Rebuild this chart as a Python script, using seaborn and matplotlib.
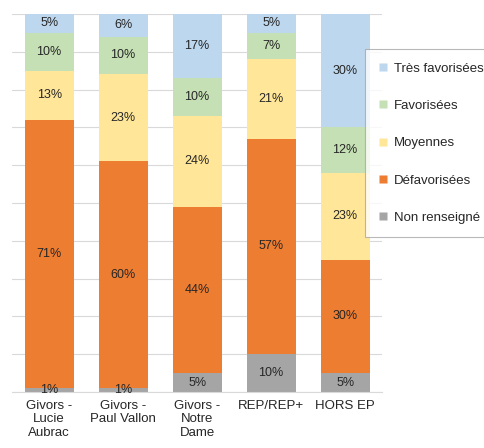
import matplotlib
matplotlib.use("Agg")
import matplotlib.pyplot as plt
import seaborn as sns
import pandas as pd
import numpy as np
from matplotlib.lines import Line2D

categories = ["Givors -\nLucie\nAubrac", "Givors -\nPaul Vallon", "Givors -\nNotre\nDame", "REP/REP+", "HORS EP"]
series_names = ["Non renseigné", "Défavorisées", "Moyennes", "Favorisées", "Très favorisées"]
non_renseigne = [1, 1, 5, 10, 5]
defavorisees = [71, 60, 44, 57, 30]
moyennes = [13, 23, 24, 21, 23]
favorisees = [10, 10, 10, 7, 12]
tres_favorisees = [5, 6, 17, 5, 30]
colors = ["#A5A5A5", "#ED7D31", "#FFE699", "#C5E0B4", "#BDD7EE"]

series = [non_renseigne, defavorisees, moyennes, favorisees, tres_favorisees]

sns.set_style("white")
plt.rcParams['font.family'] = ['Liberation Sans', 'DejaVu Sans']

fig = plt.figure(figsize=(4.85, 4.48), dpi=100)
ax = fig.add_axes([0.025, 0.125, 0.763, 0.844])

vals = np.array(series, dtype=float)
cum = np.cumsum(vals, axis=0)

for i in reversed(range(len(series))):
    df = pd.DataFrame({"cat": categories, "val": cum[i]})
    sns.barplot(data=df, x="cat", y="val", color=colors[i], saturation=1,
                width=0.66, ax=ax, zorder=2, edgecolor="none", linewidth=0)

for i in range(len(series)):
    for j in range(len(categories)):
        center = cum[i][j] - vals[i][j] / 2
        ax.text(j, center, f"{int(vals[i][j])}%", ha="center", va="center",
                fontsize=9, color="#262626", zorder=5)

ax.set_ylim(0, 100)
ax.set_xlim(-0.5, 4.5)
ax.set_yticks(np.arange(0, 101, 10))
ax.yaxis.grid(True, color="#D9D9D9", linewidth=0.8, zorder=0)
ax.set_axisbelow(True)
ax.tick_params(axis="y", left=False, labelleft=False)
ax.tick_params(axis="x", bottom=False, labelsize=9.5, colors="#262626", pad=2)
ax.set_xlabel("")
ax.set_ylabel("")
for s in ["top", "right", "left"]:
    ax.spines[s].set_visible(False)
ax.spines["bottom"].set_color("#D9D9D9")

handles = [Line2D([0], [0], marker="s", color="none", markerfacecolor=colors[i],
                  markeredgecolor="none", markersize=6) for i in reversed(range(len(series)))]
labels = list(reversed(series_names))
leg = fig.legend(handles, labels, loc="upper left", bbox_to_anchor=(0.752, 0.89),
                 fontsize=9.5, frameon=True, fancybox=False, labelspacing=1.9,
                 handlelength=0.8, handletextpad=0.4, borderpad=1.0, borderaxespad=0)
leg.get_frame().set_edgecolor("#A6A6A6")
leg.get_frame().set_linewidth(0.8)
for t in leg.get_texts():
    t.set_color("#262626")

fig.savefig("out.png", dpi=100)
